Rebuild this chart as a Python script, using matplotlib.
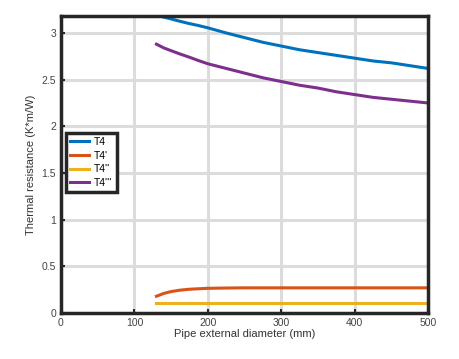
import numpy as np
import matplotlib
matplotlib.use('Agg')
import matplotlib.pyplot as plt

plt.rcParams['font.family'] = ['Liberation Sans', 'DejaVu Sans']

# pipe external diameter (mm)
diam = [130, 140, 150, 162, 175, 187, 200, 225, 250, 275, 300, 325, 350, 375, 400, 425, 450, 475, 500]

# thermal resistance (K*m/W)
t4 = [3.19, 3.17, 3.15, 3.125, 3.10, 3.08, 3.055, 3.00, 2.95, 2.90, 2.86, 2.82, 2.79, 2.76, 2.73, 2.70, 2.68, 2.65, 2.62]
t4_1 = [0.18, 0.21, 0.23, 0.245, 0.255, 0.26, 0.265, 0.268, 0.27, 0.27, 0.27, 0.27, 0.27, 0.27, 0.27, 0.27, 0.27, 0.27, 0.27]
t4_2 = [0.11] * 19
t4_3 = [2.88, 2.84, 2.81, 2.775, 2.74, 2.705, 2.67, 2.62, 2.57, 2.52, 2.48, 2.44, 2.41, 2.37, 2.34, 2.31, 2.29, 2.27, 2.25]

labels = ["T4", "T4'", "T4''", "T4'''"]
colors = ['#0072BD', '#D95319', '#EDB120', '#7E2F8E']

fig = plt.figure(figsize=(4.6, 3.59), dpi=100)
ax = fig.add_axes([0.1326, 0.128, 0.798, 0.827])

for y, lab, c in zip([t4, t4_1, t4_2, t4_3], labels, colors):
    ax.plot(diam, y, color=c, lw=2.2, label=lab)

ax.set_xlim(0, 500)
ax.set_ylim(0, 3.18)
ax.set_xticks(np.arange(0, 501, 100))
ax.set_yticks(np.arange(0, 3.01, 0.5))
ax.set_yticklabels(['0', '0.5', '1', '1.5', '2', '2.5', '3'])
ax.grid(True, color='#dcdcdc', lw=2.2)
ax.set_axisbelow(True)
for s in ax.spines.values():
    s.set_linewidth(2.5)
    s.set_color('#262626')
ax.tick_params(labelsize=7.5, colors='#262626', direction='in', length=3, width=1.5, labelcolor='#444444')

ax.set_xlabel('Pipe external diameter (mm)', fontsize=8, color='#333333', labelpad=1)
ax.set_ylabel('Thermal resistance (K*m/W)', fontsize=8, color='#333333', labelpad=4)

leg = ax.legend(loc='upper left', bbox_to_anchor=(0.014, 0.607), borderaxespad=0, fontsize=7.5,
                fancybox=False, framealpha=1, edgecolor='#262626',
                handlelength=1.8, handletextpad=0.5, borderpad=0.4, labelspacing=0.35)
leg.get_frame().set_linewidth(2.5)

fig.savefig('out.png', dpi=100)
